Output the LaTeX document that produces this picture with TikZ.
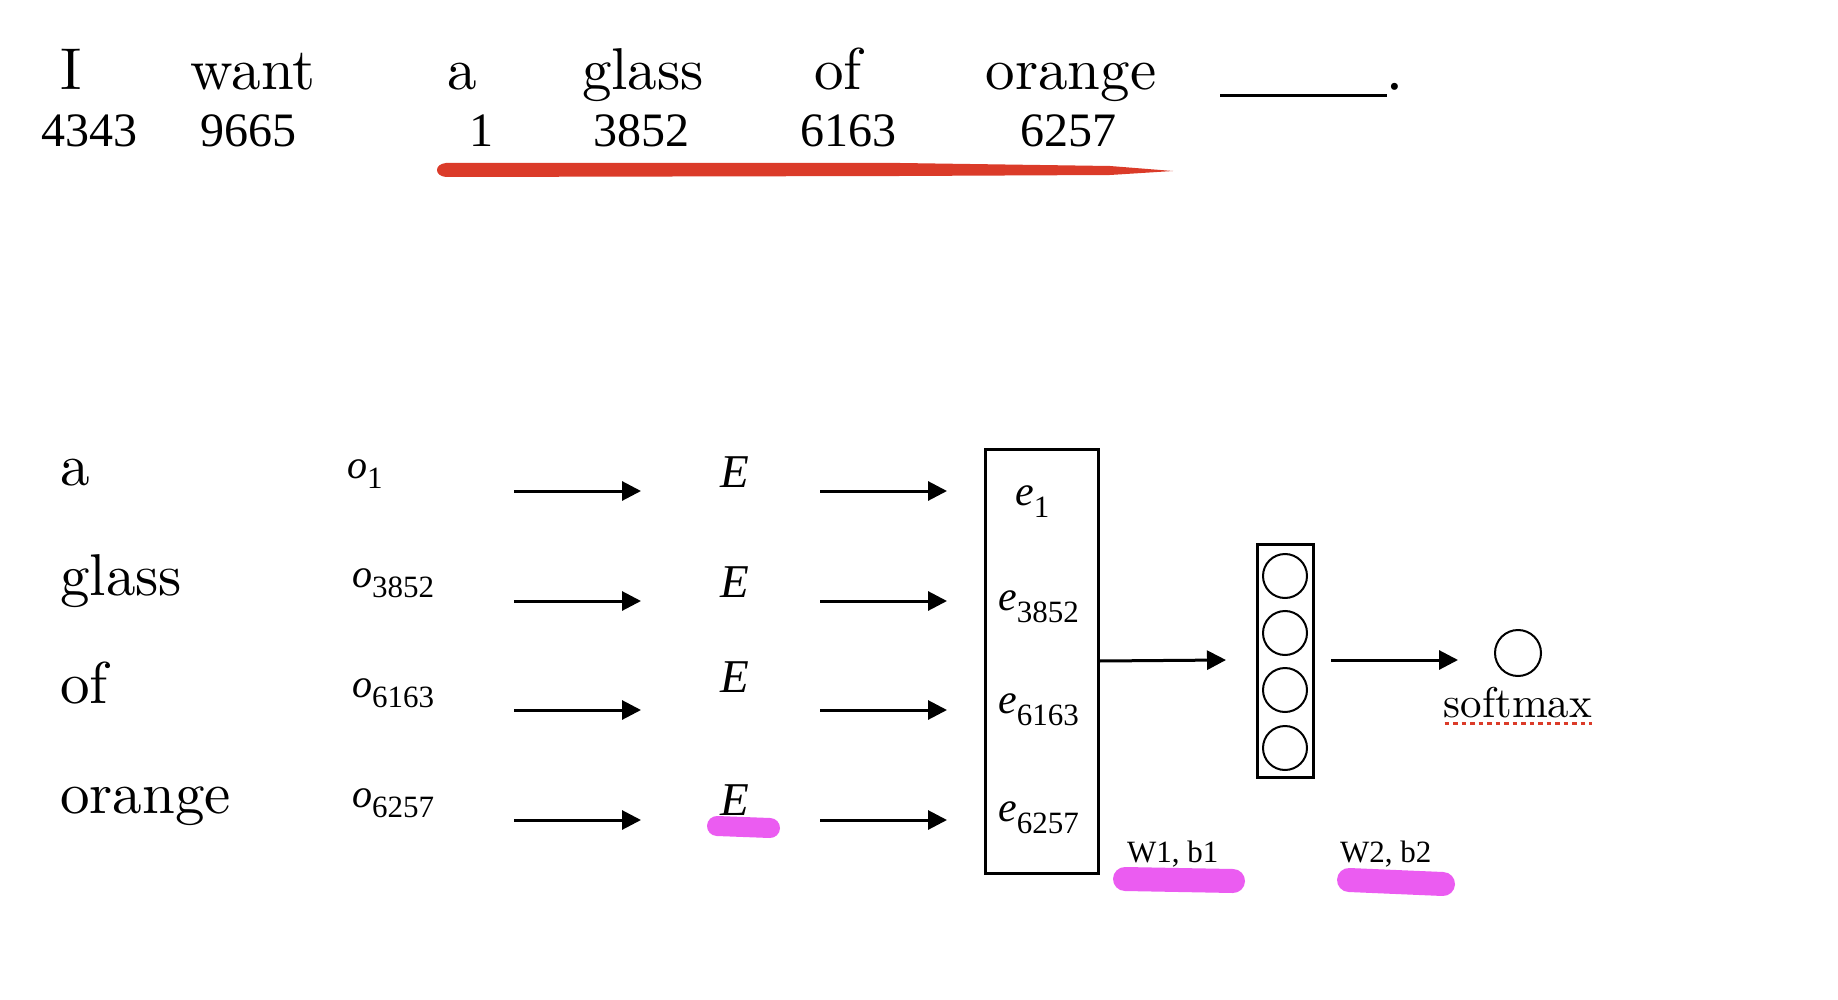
\documentclass[tikz,border=0pt]{standalone}
\usepackage{fontspec}
\newfontfamily\tms{Liberation Serif}
\newfontfamily\lmten[Extension=.otf]{lmroman10-regular}
\usetikzlibrary{arrows.meta}
\definecolor{brushred}{HTML}{DB3B29}
\definecolor{hlpink}{HTML}{EB5CF1}
\newcommand{\fsz}[1]{\fontsize{#1}{#1}\selectfont}
\newcommand{\sublab}[3]{{\itshape #1}\raisebox{-#3pt}{\fsz{31}\upshape #2}}
\begin{document}
\begin{tikzpicture}[x=1pt,y=-1pt,
  txt/.style={inner sep=0pt, anchor=base},
  word/.style={txt, font=\lmten\fsz{59}},
  num/.style={txt, font=\tms\fsz{48}},
  olab/.style={txt, anchor=base west, font=\tms\fsz{40}},
  elab/.style={txt, anchor=base west, font=\tms\fsz{42}},
  emat/.style={txt, font=\tms\itshape\fsz{47}},
  wlab/.style={txt, anchor=base west, font=\tms\fsz{31}},
  arr/.style={line width=3pt, -{Triangle[length=19pt,width=19pt]}},
  neuron/.style={circle, draw, line width=2pt, minimum size=44pt, inner sep=0pt},
  hl/.style={hlpink, line width=22pt, line cap=round}
]
\useasboundingbox[fill=white] (0,0) rectangle (1838,1000);

% red brush stroke
\fill[brushred] (446,163) .. controls (434,164) and (434,176) .. (446,177)
  -- (900,176) -- (1110,175) -- (1173,171) -- (1110,166) -- (900,163) -- cycle;

% top sentence
\node[word] (tI) at (71,90) {I};
\node[word] (twant) at (253,90) {want};
\node[word] (ta) at (462,90) {a};
\node[word] (tglass) at (643,90) {glass};
\node[word] (tof) at (838,90) {of};
\node[word] (torange) at (1071,90) {orange};
\node[txt, anchor=base west, font=\tms\fsz{59}] (tblank) at (1220,90) {\rule[-7.5pt]{167pt}{3pt}.};

\node[num] (n1) at (89,147) {4343};
\node[num] (n2) at (248,147) {9665};
\node[num] (n3) at (481,147) {1};
\node[num] (n4) at (641,147) {3852};
\node[num] (n5) at (848,147) {6163};
\node[num] (n6) at (1068,147) {6257};

% left words
\node[word, anchor=base west] (wa) at (60,485) {a};
\node[word, anchor=base west] (wglass) at (60,595) {glass};
\node[word, anchor=base west] (wof) at (60,703) {of};
\node[word, anchor=base west] (worange) at (60,813) {orange};

% one-hot labels
\node[olab] (o1) at (347,478) {\sublab{o}{1}{10}};
\node[olab] (o2) at (352,587) {\sublab{o}{3852}{10}};
\node[olab] (o3) at (352,697) {\sublab{o}{6163}{10}};
\node[olab] (o4) at (352,807) {\sublab{o}{6257}{10}};

% highlight under last E
\draw[hl, line width=20pt] (717,826) -- (770,828);

% E matrices
\node[emat] (E1) at (735,487) {E};
\node[emat] (E2) at (735,597) {E};
\node[emat] (E3) at (735,692) {E};
\node[emat] (E4) at (735,815) {E};

% arrows
\foreach \i/\y in {1/491,2/601,3/710,4/820}{
  \coordinate (as\i) at (514,\y);
  \coordinate (ae\i) at (641,\y);
  \coordinate (bs\i) at (820,\y);
  \coordinate (be\i) at (947,\y);
  \draw[arr] (as\i) -- (ae\i);
  \draw[arr] (bs\i) -- (be\i);
}

% embedding box
\node[draw, line width=3pt, minimum width=113pt, minimum height=424pt, inner sep=0pt] (ebox) at (1041.5,661) {};
\node[elab] (e1) at (1015,505) {\sublab{e}{1}{12}};
\node[elab] (e2) at (998,610) {\sublab{e}{3852}{12}};
\node[elab] (e3) at (998,713) {\sublab{e}{6163}{12}};
\node[elab] (e4) at (998,821) {\sublab{e}{6257}{12}};

% hidden layer
\node[draw, line width=3pt, minimum width=56pt, minimum height=233pt, inner sep=0pt] (hbox) at (1285,660.5) {};
\node[neuron] (h1) at (1285,576) {};
\node[neuron] (h2) at (1285,633) {};
\node[neuron] (h3) at (1285,690) {};
\node[neuron] (h4) at (1285,748) {};

\coordinate (c1) at (1226,660);
\draw[arr] (ebox.east) -- (c1);
\coordinate (c2s) at (1331,660);
\coordinate (c2e) at (1458,660);
\draw[arr] (c2s) -- (c2e);

% output
\node[neuron, minimum size=46pt] (out) at (1518,653) {};
\node[txt, font=\lmten\fsz{43}] (smax) at (1518,717) {softmax};
\draw[brushred, line width=3pt, dash pattern=on 4.5pt off 4pt] (smax.base west) ++(1,6) -- (smax.base east |- 0,723);

% weights
\draw[hl, line width=24pt] (1125,879) -- (1233,881);
\draw[hl, line width=24pt] (1349,880) -- (1443,884);
\node[wlab] (w1) at (1127,862) {W1, b1};
\node[wlab] (w2) at (1340,862) {W2, b2};

\end{tikzpicture}
\end{document}
